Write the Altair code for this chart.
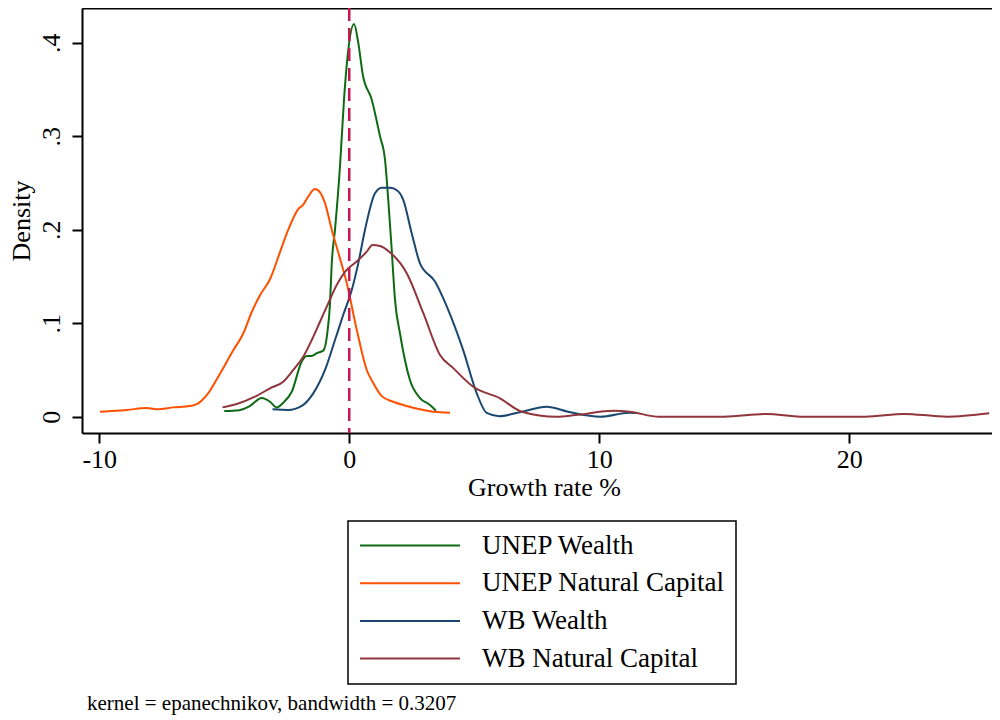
import pandas as pd
import altair as alt

series = ["UNEP Wealth", "UNEP Natural Capital", "WB Wealth", "WB Natural Capital"]
colors = ["#0f6a14", "#ff5000", "#1a476f", "#90353b"]

unep_wealth_x = [-5.0, -4.4, -4.0, -3.5, -3.17, -2.9, -2.64, -2.3, -1.9, -1.7, -1.5, -1.3, -1.04, -0.88, -0.77,
                 -0.7, -0.57, -0.37, -0.21, -0.04, 0.19, 0.36, 0.54, 0.9, 1.23, 1.43, 1.56, 1.7, 1.83, 2.03,
                 2.43, 2.83, 3.23, 3.47]
unep_wealth_y = [0.006, 0.007, 0.011, 0.020, 0.016, 0.010, 0.015, 0.0267, 0.059, 0.065, 0.065, 0.068, 0.0707,
                 0.089, 0.121, 0.164, 0.200, 0.268, 0.339, 0.392, 0.420, 0.400, 0.366, 0.339, 0.300, 0.275,
                 0.232, 0.178, 0.125, 0.089, 0.039, 0.020, 0.0125, 0.0064]

unep_natural_x = [-9.97, -8.9, -8.1, -7.64, -7.04, -6.37, -6.04, -5.7, -5.17, -4.64, -4.24, -3.9, -3.57, -3.17,
                  -2.77, -2.44, -2.04, -1.84, -1.64, -1.37, -1.17, -0.97, -0.7, -0.4, -0.1, 0.3, 0.7, 0.96,
                  1.3, 1.76, 2.3, 2.83, 3.36, 4.03]
unep_natural_y = [0.0054, 0.0072, 0.0093, 0.0079, 0.010, 0.0115, 0.0143, 0.023, 0.046, 0.071, 0.089, 0.112,
                  0.130, 0.147, 0.176, 0.200, 0.222, 0.2267, 0.2355, 0.2435, 0.240, 0.2285, 0.200, 0.172,
                  0.143, 0.093, 0.050, 0.036, 0.022, 0.016, 0.0115, 0.0079, 0.0054, 0.0043]

wb_wealth_x = [-3.07, -2.44, -1.9, -1.44, -0.97, -0.57, -0.24, 0.1, 0.36, 0.63, 1.03, 1.3, 1.63, 1.96, 2.16,
               2.5, 2.83, 3.43, 3.9, 4.56, 5.1, 5.5, 6.0, 6.9, 7.9, 8.75, 10.05, 11.2, 11.5]
wb_wealth_y = [0.0079, 0.0072, 0.0115, 0.025, 0.050, 0.082, 0.109, 0.1355, 0.164, 0.200, 0.239, 0.245, 0.245,
               0.241, 0.232, 0.196, 0.164, 0.1445, 0.118, 0.071, 0.025, 0.004, 0.0005, 0.0054, 0.0107, 0.0054,
               0.0, 0.0043, 0.004]

wb_natural_x = [-5.07, -4.5, -3.77, -3.17, -2.64, -2.24, -1.84, -1.5, -1.17, -0.84, -0.5, -0.17, 0.3, 0.7,
                0.93, 1.23, 1.6, 2.3, 2.96, 3.63, 4.16, 4.96, 6.03, 6.9, 8.3, 9.05, 10.6, 11.2, 12.4, 15.0,
                16.7, 18.06, 20.65, 22.2, 23.4, 23.9, 25.6]
wb_natural_y = [0.010, 0.0136, 0.0214, 0.0304, 0.0375, 0.050, 0.0642, 0.082, 0.1016, 0.1213, 0.141, 0.155,
                0.166, 0.1765, 0.1837, 0.1826, 0.1765, 0.1535, 0.111, 0.066, 0.052, 0.032, 0.0197, 0.0054,
                0.0, 0.0018, 0.0064, 0.0054, 0.0, 0.0, 0.003, 0.0, 0.0, 0.003, 0.0008, 0.0, 0.0036]

x_ticks = [-10, 0, 10, 20]
y_ticks = [0, 0.1, 0.2, 0.3, 0.4]
note = "kernel = epanechnikov, bandwidth = 0.3207"
font = "Liberation Serif"


def curve(name, xs, ys):
    return pd.DataFrame({"growth": xs, "density": ys, "series": name})


data = pd.concat([
    curve(series[0], unep_wealth_x, unep_wealth_y),
    curve(series[1], unep_natural_x, unep_natural_y),
    curve(series[2], wb_wealth_x, wb_wealth_y),
    curve(series[3], wb_natural_x, wb_natural_y),
], ignore_index=True)

x = alt.X("growth:Q", title="Growth rate %",
          scale=alt.Scale(domain=[-10.69, 25.71], nice=False, zero=False),
          axis=alt.Axis(values=x_ticks, labelPadding=3, labelExpr="'' + datum.value",
                        titleX=462, titleY=41, titleAlign="center", titleBaseline="top"))
y = alt.Y("density:Q", title="Density",
          scale=alt.Scale(domain=[-0.0174, 0.4371], nice=False, zero=False),
          axis=alt.Axis(values=y_ticks, labelAngle=270, labelAlign="center", labelBaseline="bottom",
                        labelPadding=8, titlePadding=4,
                        labelExpr="datum.value == 0 ? '0' : replace(format(datum.value, '.1f'), '0.', '.')"))
color = alt.Color("series:N", scale=alt.Scale(domain=series, range=colors),
                  legend=alt.Legend(title=None, orient="none", legendX=266, legendY=513,
                                    symbolType="stroke", symbolSize=10000, symbolStrokeWidth=2,
                                    labelOffset=21, clipHeight=27, rowPadding=9.7, padding=11,
                                    strokeColor="black", fillColor="white", labelLimit=400))

lines = alt.Chart(data).mark_line(strokeWidth=2, interpolate="monotone").encode(x=x, y=y, color=color)

# dashed reference line at zero; its top axis only draws the upper frame line
zero = alt.Chart(pd.DataFrame({"growth": [0]})).mark_rule(
    color="#c8174f", strokeWidth=2.5, strokeDash=[13, 7]
).encode(x=alt.X("growth:Q", axis=alt.Axis(orient="top", labels=False, ticks=False, title=None)))

chart = alt.layer(lines, zero).resolve_axis(x="independent").properties(
    width=910, height=425,
    autosize=alt.AutoSizeParams(type="none"),
    padding={"left": 74, "top": 0, "right": 0, "bottom": 284},
    title=alt.TitleParams(note, orient="bottom", anchor="start", frame="group", offset=8, dx=5,
                          font=font, fontSize=21, fontWeight="normal", color="black"),
).configure_view(
    strokeWidth=0
).configure_axis(
    domain=True, domainColor="black", domainWidth=2, grid=False,
    ticks=True, tickSize=10, tickWidth=2, tickColor="black",
    labelFont=font, labelFontSize=26, labelColor="black",
    titleFont=font, titleFontSize=26, titleFontWeight="normal", titleColor="black"
).configure_legend(
    labelFont=font, labelFontSize=27, labelColor="black", strokeWidth=1.5
)

chart.save("out.html", embed_options={"renderer": "svg", "actions": False})
